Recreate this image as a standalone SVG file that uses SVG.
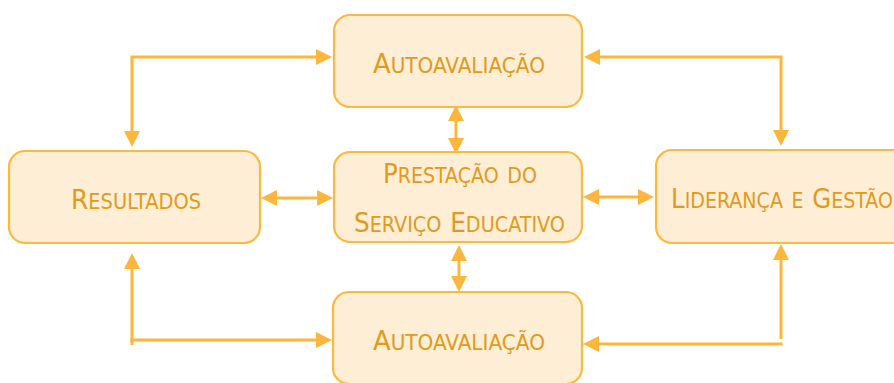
<svg xmlns="http://www.w3.org/2000/svg" width="894" height="383" viewBox="0 0 894 383">
<style>
.box{fill:#FDEED5;stroke:#FBB940;stroke-width:2.2}
.lbl{font-family:"DejaVu Sans Condensed","DejaVu Sans",sans-serif;font-size:27px;font-variant:small-caps;fill:#E19A1C;text-anchor:middle}
.s{font-size:30px}
.con{fill:none;stroke:#FBB63B;stroke-width:3}
</style>
<defs>
<marker id="big" markerUnits="userSpaceOnUse" markerWidth="17" markerHeight="17" refX="0" refY="8" orient="auto-start-reverse" viewBox="0 0 17 17">
<path d="M0,0 L16,8 L0,16 z" fill="#FBB63B"/>
</marker>
</defs>
<g id="connectors">
<path class="con" d="M132,131 V57 H316" marker-start="url(#big)" marker-end="url(#big)"/>
<path class="con" d="M600,57 H781 V130" marker-start="url(#big)" marker-end="url(#big)"/>
<path class="con" d="M132,345 V269" marker-end="url(#big)"/>
<path class="con" d="M130.5,340 H316" marker-end="url(#big)"/>
<path class="con" d="M781,339 V260" marker-end="url(#big)"/>
<path class="con" d="M782.5,344 H599" marker-end="url(#big)"/>
<path class="con" d="M456,121 V138" marker-start="url(#big)" marker-end="url(#big)"/>
<path class="con" d="M459,261 V276" marker-start="url(#big)" marker-end="url(#big)"/>
<path class="con" d="M277,198 H317" marker-start="url(#big)" marker-end="url(#big)"/>
<path class="con" d="M599,197 H638" marker-start="url(#big)" marker-end="url(#big)"/>
</g>
<g id="autoavaliacao-top">
<rect class="box" x="334" y="15" width="248" height="92" rx="16"/>
<text class="lbl" x="459" y="73" textLength="172" lengthAdjust="spacingAndGlyphs">A<tspan class="s">utoavaliação</tspan></text>
</g>
<g id="resultados">
<rect class="box" x="9" y="151" width="251" height="92" rx="16"/>
<text class="lbl" x="136" y="209" textLength="130" lengthAdjust="spacingAndGlyphs">R<tspan class="s">esultados</tspan></text>
</g>
<g id="prestacao">
<rect class="box" x="334" y="152" width="248" height="90" rx="16"/>
<text class="lbl" x="460" y="183" textLength="154" lengthAdjust="spacingAndGlyphs">P<tspan class="s">restação do</tspan></text>
<text class="lbl" x="459.5" y="232" textLength="211" lengthAdjust="spacingAndGlyphs">S<tspan class="s">erviço </tspan>E<tspan class="s">ducativo</tspan></text>
</g>
<g id="lideranca">
<rect class="box" x="656" y="150" width="260" height="93" rx="16"/>
<text class="lbl" x="782" y="208" textLength="222" lengthAdjust="spacingAndGlyphs">L<tspan class="s">iderança e </tspan>G<tspan class="s">estão</tspan></text>
</g>
<g id="autoavaliacao-bottom">
<rect class="box" x="333" y="292" width="249" height="92" rx="16"/>
<text class="lbl" x="459" y="350" textLength="172" lengthAdjust="spacingAndGlyphs">A<tspan class="s">utoavaliação</tspan></text>
</g>
</svg>
